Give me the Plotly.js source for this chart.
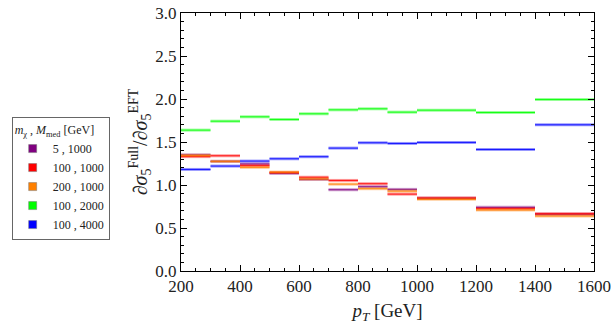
<!DOCTYPE html>
<html>
<head>
<meta charset="utf-8">
<script src="https://cdn.plot.ly/plotly-3.0.1.min.js"></script>
<style>
  html, body { margin: 0; padding: 0; background: #fff; }
  #chart { width: 615px; height: 327px; }
</style>
</head>
<body>
<div id="chart"></div>
<script>
// bin edges in pT [GeV]
const bin_lo = [200, 300, 400, 500, 600, 700, 800, 900, 1000, 1200, 1400];
const bin_hi = [300, 400, 500, 600, 700, 800, 900, 1000, 1200, 1400, 1600];

// ratio dsigma_full / dsigma_eft per bin
const ratio_5_1000   = [1.35, 1.275, 1.245, 1.135, 1.065, 0.945, 0.980, 0.949, 0.845, 0.740, 0.660];
const ratio_100_1000 = [1.33, 1.340, 1.225, 1.145, 1.090, 1.053, 1.015, 0.894, 0.848, 0.725, 0.666];
const ratio_200_1000 = [1.345, 1.275, 1.205, 1.150, 1.070, 1.010, 0.957, 0.929, 0.833, 0.709, 0.639];
const ratio_100_2000 = [1.638, 1.742, 1.793, 1.762, 1.828, 1.874, 1.886, 1.847, 1.870, 1.843, 1.994];
const ratio_100_4000 = [1.181, 1.220, 1.278, 1.305, 1.329, 1.429, 1.491, 1.483, 1.495, 1.413, 1.700];

const series_names = ["5 , 1000", "100 , 1000", "200 , 1000", "100 , 2000", "100 , 4000"];
const series_values = [ratio_5_1000, ratio_100_1000, ratio_200_1000, ratio_100_2000, ratio_100_4000];
const series_colors = ["#800080", "#ff0000", "#ff8000", "#00ff00", "#0000ff"];

// flat horizontal segment per bin, broken by nulls
const to_segments = (values) => {
  const x = [], y = [];
  values.forEach((v, i) => {
    x.push(bin_lo[i], bin_hi[i], null);
    y.push(v, v, null);
  });
  return {x, y};
};

const data = [];

series_values.forEach((vals, k) => {
  const seg = to_segments(vals);
  // light band underneath
  data.push({
    x: seg.x, y: seg.y,
    mode: "lines", type: "scatter",
    line: {color: series_colors[k], width: 3},
    opacity: 0.4,
    showlegend: false,
    hoverinfo: "skip",
  });
  // thin line on top
  data.push({
    x: seg.x, y: seg.y,
    mode: "lines", type: "scatter",
    line: {color: series_colors[k], width: 1},
    opacity: 0.85,
    showlegend: false,
  });
});

// legend entries with square swatches
series_names.forEach((name, k) => {
  data.push({
    x: [null], y: [null],
    name: name,
    mode: "markers", type: "scatter",
    marker: {color: series_colors[k], symbol: "square", size: 8, line: {color: "#777", width: 0.5}},
  });
});

const serif = "Liberation Serif, Times New Roman, serif";
const tick_font = {family: serif, size: 17, color: "#222"};

const layout = {
  width: 615,
  height: 327,
  margin: {l: 173, r: 21, t: 13, b: 56},
  paper_bgcolor: "#fff",
  plot_bgcolor: "#fff",
  showlegend: true,
  legend: {
    x: -0.41, y: 0.595, xanchor: "left", yanchor: "top",
    bgcolor: "#fff",
    bordercolor: "#666",
    borderwidth: 1,
    font: {family: serif, size: 12, color: "#222"},
    title: {text: "<i>m</i><sub>χ</sub> , <i>M</i><sub>med</sub> [GeV]", font: {family: serif, size: 12, color: "#222"}},
    itemwidth: 30,
    tracegroupgap: 0,
  },
  xaxis: {
    range: [200, 1600],
    tickvals: [200, 400, 600, 800, 1000, 1200, 1400, 1600],
    ticks: "inside", ticklen: 6, tickcolor: "#000",
    minor: {dtick: 50, ticks: "inside", ticklen: 3, tickcolor: "#000"},
    showline: true, linecolor: "#000", linewidth: 1, mirror: "allticks",
    showgrid: false, zeroline: false,
    tickfont: tick_font,
    title: {text: "<i>p</i><sub><i>T</i></sub> [GeV]", font: {family: serif, size: 19, color: "#222"}, standoff: 8},
  },
  yaxis: {
    range: [0, 3],
    dtick: 0.5, tickformat: ".1f",
    ticks: "inside", ticklen: 6, tickcolor: "#000",
    minor: {dtick: 0.1, ticks: "inside", ticklen: 3, tickcolor: "#000"},
    showline: true, linecolor: "#000", linewidth: 1, mirror: "allticks",
    showgrid: false, zeroline: false,
    tickfont: tick_font,
    title: {text: "∂<i>σ</i><sub>5</sub><sup>Full</sup>/∂<i>σ</i><sub>5</sub><sup>EFT</sup>", font: {family: serif, size: 20, color: "#222"}, standoff: 2},
  },
};

Plotly.newPlot("chart", data, layout, {staticPlot: true});
</script>
</body>
</html>
